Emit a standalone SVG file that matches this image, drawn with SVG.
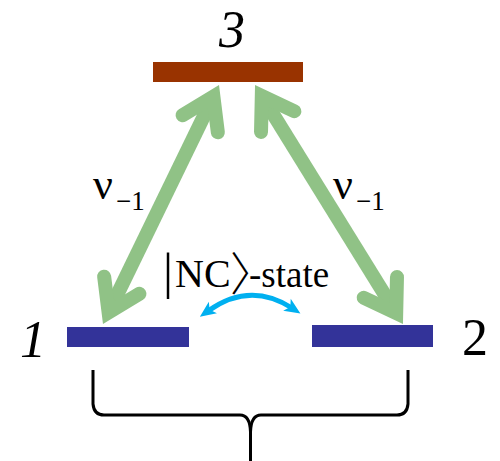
<svg xmlns="http://www.w3.org/2000/svg" width="500" height="461" viewBox="0 0 500 461">
  <style>
    .lbl { font-family: "Liberation Serif", "Times New Roman", serif; fill: #000; }
    .it { font-style: italic; }
    .big { font-size: 52px; }
    .shaft { stroke: #90c286; stroke-width: 14; fill: none; }
    .brace { stroke: #000; stroke-width: 3; fill: none; stroke-linejoin: round; }
  </style>
  <defs>
    <!-- open chevron head for the thick green transitions -->
    <marker id="chev" markerUnits="userSpaceOnUse" orient="auto-start-reverse" overflow="visible" refX="0" refY="0" markerWidth="1" markerHeight="1">
      <path d="M -30.2 -19.6 L 0 0 L -30.2 19.6" fill="none" stroke="#90c286" stroke-width="14" stroke-linecap="round" stroke-linejoin="miter"/>
    </marker>
    <!-- small filled head for the blue exchange arc -->
    <marker id="blue" markerUnits="userSpaceOnUse" orient="auto-start-reverse" overflow="visible" refX="0" refY="0" markerWidth="1" markerHeight="1">
      <path d="M 10 0 L -6 -7 L -2 0 L -6 7 Z" fill="#00b0f0"/>
    </marker>
  </defs>

  <g id="level3">
    <rect x="153" y="62" width="150" height="20" fill="#993300"/>
    <text class="lbl it big" x="232" y="47" text-anchor="middle">3</text>
  </g>

  <g id="level1">
    <rect x="67" y="327" width="122" height="20" fill="#333399"/>
    <text class="lbl it big" x="33" y="357" text-anchor="middle">1</text>
  </g>

  <g id="level2">
    <rect x="312" y="325" width="121" height="22" fill="#333399"/>
    <text class="lbl big" x="475" y="355" text-anchor="middle">2</text>
  </g>

  <g id="connectors">
    <line class="shaft" x1="108.6" y1="312.4" x2="213.4" y2="96.6" marker-start="url(#chev)" marker-end="url(#chev)"/>
    <line class="shaft" x1="261.8" y1="95.9" x2="396.2" y2="313.1" marker-start="url(#chev)" marker-end="url(#chev)"/>
    <path d="M 208 311 Q 250 281 292 308" fill="none" stroke="#00b0f0" stroke-width="5" marker-start="url(#blue)" marker-end="url(#blue)"/>
  </g>

  <g id="rate-labels">
    <text class="lbl" x="93" y="199" font-size="44">ν</text>
    <text class="lbl" x="116" y="210" font-size="27">−1</text>
    <text class="lbl" x="333" y="199" font-size="44">ν</text>
    <text class="lbl" x="356" y="210" font-size="27">−1</text>
  </g>

  <g id="nc-state">
    <!-- ket |NC⟩ followed by "-state"; the wide CJK bracket is tightened so the word follows it -->
    <text class="lbl" y="287">
      <tspan x="163" y="287.5" font-size="50">|</tspan><tspan x="175" y="287" font-size="40">NC</tspan><tspan x="230" y="290" font-size="46" font-weight="300" letter-spacing="-27" style="font-family:'Noto Sans CJK JP',sans-serif">〉</tspan><tspan y="287" font-size="37">-state</tspan>
    </text>
  </g>

  <g id="brace">
    <path class="brace" d="M 93 370 L 93 404 Q 94 415 104 415 L 240 415 Q 250 415 250.5 432 L 250.5 461"/>
    <path class="brace" d="M 408 370 L 408 404 Q 407 415 397 415 L 261 415 Q 251 415 250.5 432"/>
  </g>
</svg>
